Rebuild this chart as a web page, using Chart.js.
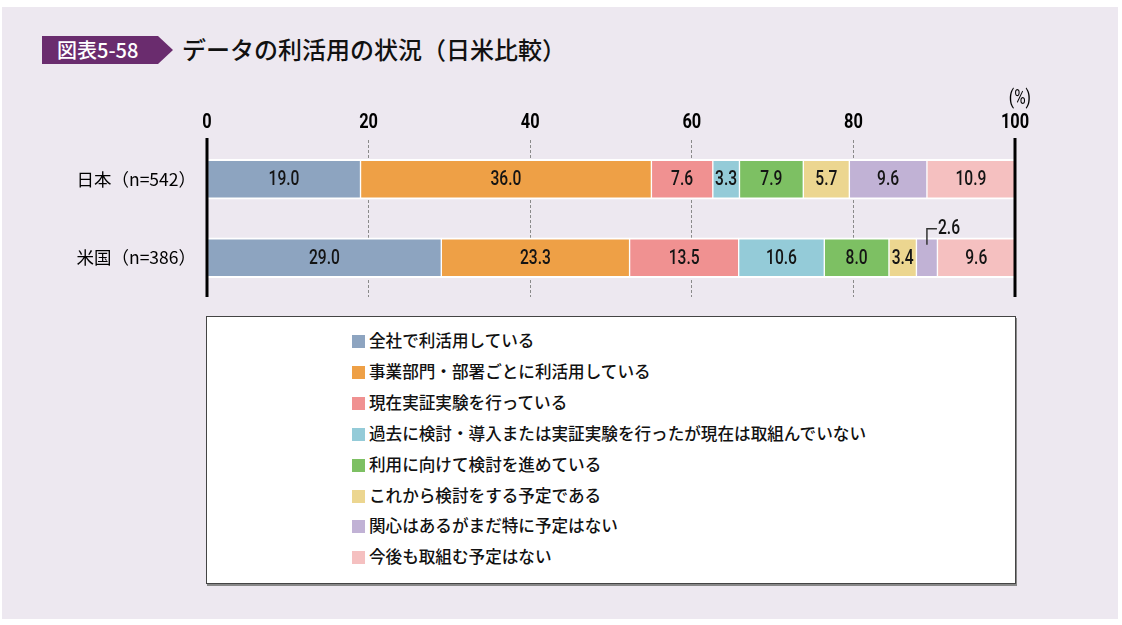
<!DOCTYPE html>
<html lang="ja">
<head>
<meta charset="utf-8">
<script src="https://cdn.jsdelivr.net/npm/chart.js@4.4.1/dist/chart.umd.min.js"></script>
<style>
  html, body { margin:0; padding:0; background:#ffffff; }
  body { width:1122px; height:625px; position:relative; overflow:hidden; font-family:"Noto Sans CJK JP", sans-serif; }
  #panel { position:absolute; left:2px; top:7px; width:1116px; height:612px; background:#ede8f0; }
  #badge { position:absolute; left:42px; top:36px; width:131px; height:28px; background:#6a2c6e;
           clip-path: polygon(0 0, 116px 0, 131px 50%, 116px 100%, 0 100%); color:#fff;
           font-size:20px; line-height:28px; padding-left:15px; box-sizing:border-box; font-weight:500; letter-spacing:0px; }
  #title { position:absolute; left:182px; top:32px; font-size:24px; line-height:34px; color:#111; font-weight:500; white-space:nowrap; }
  #legend { position:absolute; left:206px; top:316px; width:808px; height:266px; background:#fff; border:1px solid #444;
            box-shadow:1px 2px 0 #888; }
  .li { position:absolute; left:145px; height:22px; font-size:16.6px; line-height:22px; color:#111; white-space:nowrap; font-weight:500; }
  .sw { display:inline-block; width:13px; height:13px; vertical-align:middle; margin-right:4px; position:relative; top:-1px; }
  #c { position:absolute; left:0; top:0; }
</style>
</head>
<body>
<div id="panel"></div>
<div id="badge">図表5-58</div>
<div id="title">データの利活用の状況（日米比較）</div>
<div id="legend"></div>
<canvas id="c" width="1122" height="625"></canvas>
<script>
// ---- data ----
const categories = ["日本（n=542）", "米国（n=386）"];
const seriesNames = [
  "全社で利活用している",
  "事業部門・部署ごとに利活用している",
  "現在実証実験を行っている",
  "過去に検討・導入または実証実験を行ったが現在は取組んでいない",
  "利用に向けて検討を進めている",
  "これから検討をする予定である",
  "関心はあるがまだ特に予定はない",
  "今後も取組む予定はない"
];
const japanValues = [19.0, 36.0, 7.6, 3.3, 7.9, 5.7, 9.6, 10.9];
const usValues    = [29.0, 23.3, 13.5, 10.6, 8.0, 3.4, 2.6, 9.6];
const tickValues  = [0, 20, 40, 60, 80, 100];
const unitLabel   = "(%)";

const colors = ["#8da4c0", "#eea046", "#f09191", "#94cbd8", "#7dc063", "#ecd690", "#c1b2d5", "#f5c0c0"];

// ---- legend ----
const legend = document.getElementById('legend');
seriesNames.forEach((n, i) => {
  const d = document.createElement('div');
  d.className = 'li';
  d.style.top = (12 + i * 30.9) + 'px';
  d.innerHTML = '<span class="sw" style="background:' + colors[i] + '"></span>' + n;
  legend.appendChild(d);
});

const numFont = "Roboto, 'Liberation Sans', Arial, sans-serif";
const SQ = 0.78; // horizontal compression to mimic condensed digits

function narrowText(ctx, txt, x, y, align) {
  const w = ctx.measureText(txt).width * SQ;
  let lx = x;
  if (align === 'center') lx = x - w / 2;
  else if (align === 'right') lx = x - w;
  ctx.save();
  ctx.translate(lx, y);
  ctx.scale(SQ, 1);
  ctx.textAlign = 'left';
  ctx.fillText(txt, 0, 0);
  ctx.restore();
  return w;
}

const datasets = seriesNames.map((n, i) => ({
  label: n,
  data: [japanValues[i], usValues[i]],
  backgroundColor: colors[i],
  borderColor: '#ffffff',
  borderWidth: {top: 2, bottom: 2, left: 1, right: 1},
  borderSkipped: false,
  barThickness: 40
}));

const edgeLines = {
  id: 'edgeLines',
  afterDatasetsDraw(chart) {
    const ctx = chart.ctx, x = chart.scales.x, a = chart.chartArea;
    ctx.save();
    ctx.strokeStyle = '#000';
    ctx.lineWidth = 3;
    [0, 100].forEach(v => {
      const px = Math.round(x.getPixelForValue(v));
      ctx.beginPath();
      ctx.moveTo(px, a.top - 2);
      ctx.lineTo(px, a.bottom);
      ctx.stroke();
    });
    // top tick labels (condensed bold)
    ctx.fillStyle = '#000';
    ctx.textBaseline = 'middle';
    ctx.font = "bold 21px " + numFont;
    x.ticks.forEach(t => {
      narrowText(ctx, String(t.value), x.getPixelForValue(t.value), a.top - 17, 'center');
    });
    ctx.font = "20px " + numFont;
    narrowText(ctx, unitLabel, x.getPixelForValue(100) + 16, a.top - 41, 'right');
    ctx.restore();
  }
};

const valueLabels = {
  id: 'valueLabels',
  afterDatasetsDraw(chart) {
    const ctx = chart.ctx;
    ctx.save();
    ctx.font = "500 20px " + numFont;
    ctx.fillStyle = '#141414';
    ctx.textBaseline = 'middle';
    chart.data.datasets.forEach((ds, di) => {
      const meta = chart.getDatasetMeta(di);
      meta.data.forEach((el, i) => {
        const v = ds.data[i];
        const txt = v.toFixed(1);
        const left = Math.min(el.x, el.base), right = Math.max(el.x, el.base);
        const cx = (left + right) / 2;
        const w = ctx.measureText(txt).width * SQ;
        if (w > right - left - 2) {
          const top = el.y - el.height / 2;
          const ly = top - 9;
          ctx.strokeStyle = '#333';
          ctx.lineWidth = 1.5;
          ctx.beginPath();
          ctx.moveTo(cx, top + 7);
          ctx.lineTo(cx, ly);
          ctx.lineTo(cx + 10, ly);
          ctx.stroke();
          narrowText(ctx, txt, cx + 11, ly, 'left');
        } else {
          narrowText(ctx, txt, cx, el.y + 1, 'center');
        }
      });
    });
    ctx.restore();
  }
};

new Chart(document.getElementById('c'), {
  type: 'bar',
  data: { labels: categories, datasets },
  plugins: [edgeLines, valueLabels],
  options: {
    responsive: false,
    animation: false,
    indexAxis: 'y',
    layout: { padding: { left: 0, top: 0, right: 107, bottom: 328 } },
    plugins: { legend: { display: false }, tooltip: { enabled: false } },
    scales: {
      x: {
        position: 'top',
        stacked: true,
        min: 0, max: 100,
        afterBuildTicks(scale) { scale.ticks = tickValues.map(v => ({ value: v })); },
        afterFit(scale) { scale.height = 140; },
        ticks: { display: false },
        grid: {
          drawTicks: false,
          color: ctx => (ctx.tick && (ctx.tick.value === 0 || ctx.tick.value === 100)) ? 'rgba(0,0,0,0)' : '#8a8a8a',
          lineWidth: 1
        },
        border: { display: false, dash: [3, 2] }
      },
      y: {
        stacked: true,
        afterFit(scale) { scale.width = 207; },
        ticks: { color: '#000', padding: 11, font: { family: "'Noto Sans CJK JP', sans-serif", size: 17.5 } },
        grid: { display: false, drawTicks: false },
        border: { display: false }
      }
    }
  }
});
</script>
</body>
</html>
